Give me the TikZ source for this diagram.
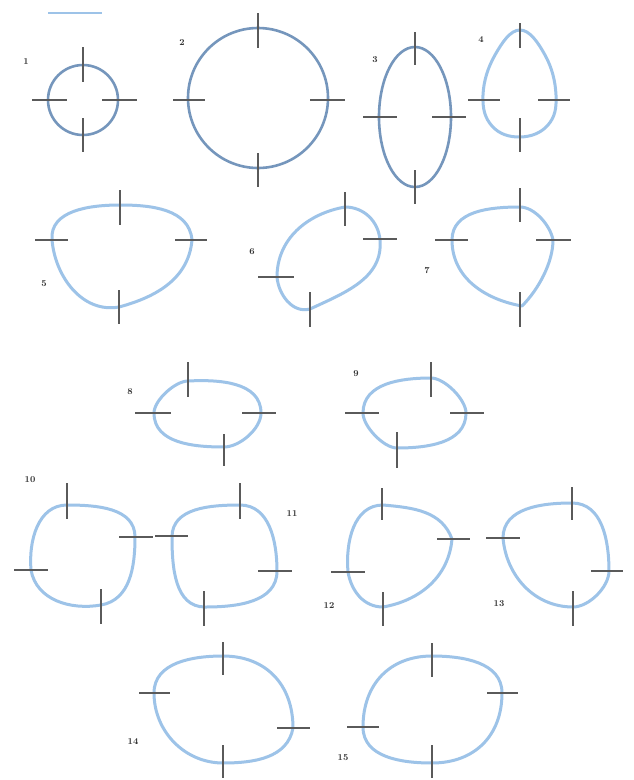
\documentclass[tikz,border=0pt]{standalone}
\begin{document}
\begin{tikzpicture}[x=1pt,y=-1pt,
  curve/.style={draw=lightcurve,line width=3pt,line cap=round,line join=round},
  dcurve/.style={draw=darkcurve,line width=2.6pt},
  tick/.style={draw=tickgray,line width=1.3pt},
  lab/.style={font=\fontsize{9}{10}\selectfont\bfseries,text=black!80,inner sep=0pt}]
\definecolor{lightcurve}{HTML}{9DC3E8}
\definecolor{darkcurve}{HTML}{7596BC}
\definecolor{tickgray}{HTML}{5A5A5A}
\useasboundingbox[fill=white] (0,0) rectangle (633,780);
% top legend line
\draw[draw=lightcurve,line width=2pt] (48,13) -- (102,13);
% 1
\draw[dcurve] (83,100) circle [radius=35];
\draw[tick] (83,47) -- (83,82); \draw[tick] (83,118) -- (83,152);
\draw[tick] (32,100) -- (67,100); \draw[tick] (102,100) -- (137,100);
\node[lab] (l1) at (26,62) {1};
% 2
\draw[dcurve] (258,98) circle [radius=70];
\draw[tick] (258,13) -- (258,48); \draw[tick] (258,153) -- (258,187);
\draw[tick] (173,100) -- (205,100); \draw[tick] (310,100) -- (345,100);
\node[lab] (l2) at (182,43) {2};
% 3
\draw[dcurve] (415,117) ellipse [x radius=36, y radius=70];
\draw[tick] (415,32) -- (415,65); \draw[tick] (415,170) -- (415,204);
\draw[tick] (363,117) -- (397,117); \draw[tick] (432,117) -- (466,117);
\node[lab] (l3) at (375,60) {3};
% 4
\draw[curve] plot[smooth cycle,tension=0.7] coordinates {(520,30) (545,55) (556,95) (548,125) (520,137) (492,126) (483,95) (495,55)};
\draw[tick] (520,23) -- (520,48); \draw[tick] (520,118) -- (520,152);
\draw[tick] (468,100) -- (500,100); \draw[tick] (538,100) -- (570,100);
\node[lab] (l4) at (481,40) {4};
% 5
\draw[curve] (120,205) to[out=0,in=95] (192,240) to[out=-95,in=15] (119,307) to[out=190,in=-85] (52,240) to[out=95,in=180] (120,205);
\draw[tick] (120,190) -- (120,225); \draw[tick] (119,290) -- (119,324);
\draw[tick] (35,240) -- (68,240); \draw[tick] (175,240) -- (207,240);
\node[lab] (l5) at (44,284) {5};
% 6
\draw[curve] (345,207) to[out=0,in=95] (380,240) to[out=-85,in=25] (310,309) to[out=195,in=-85] (277,277) to[out=90,in=190] (345,207);
\draw[tick] (345,192) -- (345,226); \draw[tick] (310,292) -- (310,327);
\draw[tick] (258,277) -- (294,277); \draw[tick] (363,239) -- (397,239);
\node[lab] (l6) at (252,252) {6};
% 7
\draw[curve] (520,207) to[out=0,in=100,looseness=0.8] (553,240) to[out=-90,in=45,looseness=0.8] (522,306) to[out=170,in=-90] (452,240) to[out=90,in=180] (520,207);
\draw[tick] (520,188) -- (520,222); \draw[tick] (520,292) -- (520,327);
\draw[tick] (435,240) -- (468,240); \draw[tick] (536,240) -- (571,240);
\node[lab] (l7) at (427,271) {7};
% 8
\draw[curve] (188,381) to[out=3,in=90] (261,413) to[out=-90,in=0,looseness=0.8] (224,447) to[out=180,in=-90] (154,413) to[out=90,in=180,looseness=0.7] (188,381);
\draw[tick] (188,362) -- (188,397); \draw[tick] (224,434) -- (224,466);
\draw[tick] (135,413) -- (171,413); \draw[tick] (242,413) -- (276,413);
\node[lab] (l8) at (130,392) {8};
% 9
\draw[curve] (431,378) to[out=0,in=90,looseness=0.7] (466,413) to[out=-90,in=0] (397,448) to[out=180,in=-90,looseness=0.7] (363,413) to[out=90,in=180] (431,378);
\draw[tick] (431,362) -- (431,397); \draw[tick] (397,432) -- (397,468);
\draw[tick] (345,413) -- (379,413); \draw[tick] (450,413) -- (484,413);
\node[lab] (l9) at (356,374) {9};
% 10
\draw[curve] (67,505) to[out=0,in=90] (135,537) to[out=-90,in=10] (101,605) to[out=190,in=-80] (31,570) to[out=95,in=180] (67,505);
\draw[tick] (67,483) -- (67,519); \draw[tick] (101,589) -- (101,624);
\draw[tick] (14,570) -- (48,570); \draw[tick] (119,537) -- (153,537);
\node[lab] (l10) at (30,480) {10};
% 11
\draw[curve] (240,505) to[out=0,in=90] (277,571) to[out=-90,in=0] (205,607) to[out=180,in=-90] (172,537) to[out=90,in=180] (240,505);
\draw[tick] (240,483) -- (240,519); \draw[tick] (204,591) -- (204,626);
\draw[tick] (155,536) -- (188,536); \draw[tick] (258,571) -- (292,571);
\node[lab] (l11) at (292,514) {11};
% 12
\draw[curve] (383,505) to[out=-5,in=110] (452,539) to[out=-95,in=10] (383,607) to[out=180,in=-80] (348,572) to[out=95,in=180] (383,505);
\draw[tick] (382,488) -- (382,520); \draw[tick] (383,592) -- (383,626);
\draw[tick] (331,572) -- (365,572); \draw[tick] (437,539) -- (470,539);
\node[lab] (l12) at (329,606) {12};
% 13
\draw[curve] (572,503) to[out=0,in=90] (609,571) to[out=-90,in=0,looseness=0.8] (573,607) to[out=180,in=-85] (503,538) to[out=90,in=180] (572,503);
\draw[tick] (572,487) -- (572,520); \draw[tick] (573,591) -- (573,626);
\draw[tick] (486,538) -- (520,538); \draw[tick] (591,571) -- (623,571);
\node[lab] (l13) at (499,604) {13};
% 14
\draw[curve] (223,656) to[out=0,in=90,looseness=1.1] (293,728) to[out=-100,in=0] (223,763) to[out=180,in=-90] (154,693) to[out=90,in=180] (223,656);
\draw[tick] (223,642) -- (223,675); \draw[tick] (223,745) -- (223,778);
\draw[tick] (139,693) -- (170,693); \draw[tick] (277,728) -- (310,728);
\node[lab] (l14) at (133,742) {14};
% 15
\draw[curve] (432,656) to[out=0,in=90] (502,693) to[out=-90,in=0,looseness=1.1] (432,763) to[out=180,in=-90] (363,727) to[out=90,in=180,looseness=1.1] (432,656);
\draw[tick] (432,643) -- (432,677); \draw[tick] (432,745) -- (432,778);
\draw[tick] (347,727) -- (379,727); \draw[tick] (487,693) -- (518,693);
\node[lab] (l15) at (343,758) {15};
\end{tikzpicture}
\end{document}
